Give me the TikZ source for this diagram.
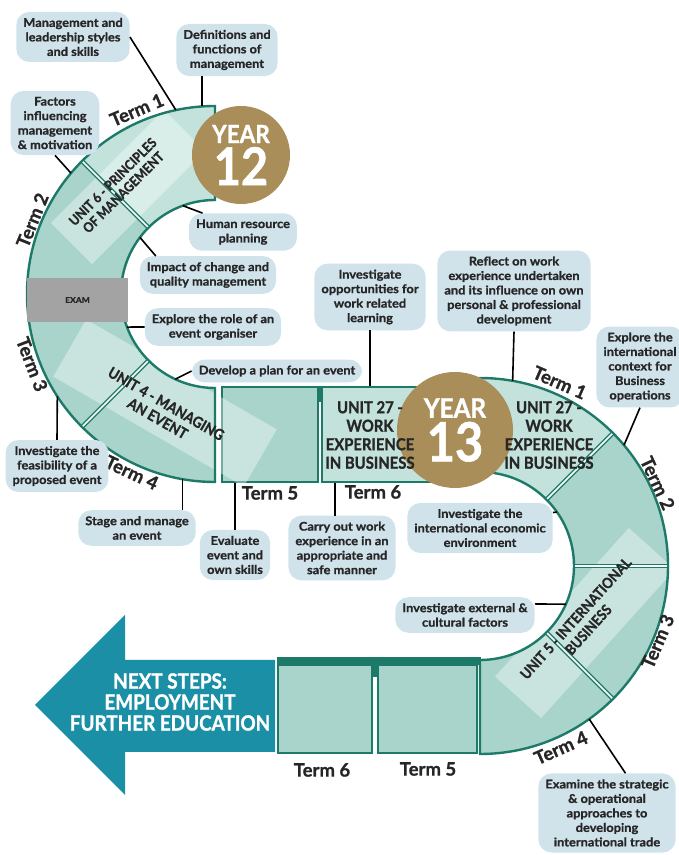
\documentclass[tikz,border=0pt]{standalone}
\usepackage{fontspec}
\setmainfont{Lato}
\newfontfamily\headfont[FakeStretch=0.9,FakeBold=1.2]{Lato}
\newfontfamily\bubfont[FakeStretch=1.07,FakeBold=1]{Lato}
\newfontfamily\termfont[FakeBold=1]{Lato}
\usepackage{tikz}

\definecolor{dkgreen}{HTML}{1E7A68}
\definecolor{bandfill}{HTML}{A9D4CB}
\definecolor{bandlt}{HTML}{C3E2DC}
\definecolor{gold}{HTML}{A98E5A}
\definecolor{bubblec}{HTML}{D0E3EB}
\definecolor{arrowc}{HTML}{1A8FA5}
\definecolor{examc}{HTML}{A3A3A3}
\definecolor{ink}{HTML}{262626}

\begin{document}
\begin{tikzpicture}[x=1pt,y=1pt,
	band/.style={fill=bandfill},
	rim/.style={draw=dkgreen,line width=2.4pt},
	divider/.style={draw=dkgreen,line width=1.4pt,double=white,double distance=1.6pt},
	shine/.style={fill=white,opacity=0.38},
	tbox/.style={fill=bandfill,draw=dkgreen,line width=2.4pt,inner sep=0pt},
	term/.style={font=\termfont\bfseries\fontsize{18.5}{18.5}\selectfont,text=ink,inner sep=0pt},
	unit/.style={font=\headfont\bfseries,text=ink,align=center,inner sep=0pt},
	bubble/.style={fill=bubblec,rounded corners=13pt,align=center,text=ink,font=\bubfont\bfseries\fontsize{12}{14.5}\selectfont,inner xsep=7pt,inner ysep=6pt},
	link/.style={draw=black,line width=1.6pt},
	year/.style={circle,fill=gold,text=white,inner sep=0pt,align=center,font=\headfont\bfseries}
]
	\useasboundingbox (0,0) rectangle (679,855);

	\begin{scope}[shift={(215,561)}]
		\fill[band] (90:188) arc[start angle=90,end angle=270,radius=188] -- (270:94) arc[start angle=270,end angle=90,radius=94] -- cycle;
		\fill[bandlt] (90:188) arc[start angle=90,end angle=135,radius=188] -- (135:94) arc[start angle=135,end angle=90,radius=94] -- cycle;
	\end{scope}
	\begin{scope}[shift={(480,289)}]
		\fill[band] (90:188) arc[start angle=90,end angle=-90,radius=188] -- (-90:94) arc[start angle=-90,end angle=90,radius=94] -- cycle;
		\fill[bandlt] (90:188) arc[start angle=90,end angle=45,radius=188] -- (45:94) arc[start angle=45,end angle=90,radius=94] -- cycle;
	\end{scope}

	\node[tbox,minimum width=96pt,minimum height=95pt] (midfive) at (270,420.5) {};
	\node[tbox,fill=bandlt,minimum width=138pt,minimum height=95pt] (midsix) at (391,420.5) {};
	\node[tbox,minimum width=94pt,minimum height=88pt] (botsix) at (325,146) {};
	\node[tbox,minimum width=99pt,minimum height=88pt] (botfive) at (427.5,146) {};

	\fill[shine,rotate around={45:(128,668)}] (48,639) rectangle (208,697);
	\fill[shine,rotate around={-30:(165,452)}] (55,419) rectangle (275,485);
	\fill[shine,rotate around={48:(585,232)}] (485,201) rectangle (685,263);

	\fill[dkgreen] (317,453) rectangle (323,469);
	\fill[dkgreen] (277,190) rectangle (481,198);
	\fill[dkgreen] (371,178) rectangle (379,198);

	\begin{scope}[shift={(215,561)}]
		\draw[rim] (90:188) arc[start angle=90,end angle=270,radius=188] -- (270:94) arc[start angle=270,end angle=90,radius=94] -- cycle;
		\draw[divider] (135:95) -- (135:187);
		\draw[divider] (225:95) -- (225:187);
		\node[term,rotate=23] (lt1) at (113:200) {Term 1};
		\node[term,rotate=68] (lt2) at (158:197) {Term 2};
		\node[term,rotate=-69] (lt3) at (201:196) {Term 3};
		\node[term,rotate=-25] (lt4) at (245:197) {Term 4};
		\coordinate (la) at (102:188);
		\coordinate (lb) at (94:188);
		\coordinate (lc) at (140:188);
		\coordinate (ld) at (110:94);
		\coordinate (le) at (143:94);
		\coordinate (lf) at (200.6:94);
		\coordinate (lg) at (245:94);
		\coordinate (lh) at (213:188);
		\coordinate (li) at (260:188);
	\end{scope}
	\begin{scope}[shift={(480,289)}]
		\draw[rim] (90:188) arc[start angle=90,end angle=-90,radius=188] -- (-90:94) arc[start angle=-90,end angle=90,radius=94] -- cycle;
		\draw[divider] (45:95) -- (45:187);
		\draw[divider] (0:95) -- (0:187);
		\draw[divider] (-45:95) -- (-45:187);
		\node[term,rotate=-23.5] (rt1) at (66.5:200) {Term 1};
		\node[term,rotate=-65] (rt2) at (25:196) {Term 2};
		\node[term,rotate=67] (rt3) at (-23:193) {Term 3};
		\node[term,rotate=24] (rt4) at (-66:199) {Term 4};
		\coordinate (ra) at (80:188);
		\coordinate (rb) at (40:188);
		\coordinate (rc) at (35:94);
		\coordinate (rd) at (-24:94);
		\coordinate (re) at (-54.5:188);
	\end{scope}

	\node[fill=examc,minimum width=101pt,minimum height=44pt,text=ink,font=\bubfont\bfseries\fontsize{8}{8}\selectfont] (exam) at (77.5,555) {EXAM};

	\node[year,minimum size=98pt] (yr12) at (241,700) {\fontsize{25}{25}\selectfont YEAR\\[3pt]\fontsize{52}{44}\selectfont 12};
	\node[year,minimum size=116pt] (yr13) at (455,425) {\fontsize{27}{27}\selectfont YEAR\\[3pt]\fontsize{54}{46}\selectfont 13};

	\node[unit,rotate=45,font=\headfont\bfseries\fontsize{13.5}{15}\selectfont] (u6) at (118,668) {UNIT 6 - PRINCIPLES\\OF MANAGEMENT};
	\node[unit,rotate=-30,font=\headfont\bfseries\fontsize{15}{17}\selectfont] (u4) at (162,444) {UNIT 4 - MANAGING\\AN EVENT};
	\node[unit,font=\headfont\bfseries\fontsize{16.5}{18.5}\selectfont] (u27a) at (370,420) {UNIT 27 -\\WORK\\EXPERIENCE\\IN BUSINESS};
	\node[unit,font=\headfont\bfseries\fontsize{16.5}{18.5}\selectfont] (u27b) at (549,420) {UNIT 27 -\\WORK\\EXPERIENCE\\IN BUSINESS};
	\node[unit,rotate=48,font=\headfont\bfseries\fontsize{14.5}{17}\selectfont] (u5) at (582,231) {UNIT 5 - INTERNATIONAL\\BUSINESS};

	\node[term] (mt5) at (270,362) {Term 5};
	\node[term] (mt6) at (373,363) {Term 6};
	\node[term] (bt6) at (322,85) {Term 6};
	\node[term] (bt5) at (428,86) {Term 5};

	\node[bubble] (lead) at (73,818) {Management and\\leadership styles\\and skills};
	\node[bubble] (defn) at (227,805) {Definitions and\\functions of\\management};
	\node[bubble] (factors) at (55,732) {Factors\\influencing\\management\\\& motivation};
	\node[bubble] (hr) at (243,623) {Human resource\\planning};
	\node[bubble] (impact) at (208,580) {Impact of change and\\quality management};
	\node[bubble] (role) at (213,528) {Explore the role of an\\event organiser};
	\node[bubble] (plan) at (277,484) {Develop a plan for an event};
	\node[bubble] (feas) at (57,389) {Investigate the\\feasibility of a\\proposed event};
	\node[bubble] (stage) at (137,327) {Stage and manage\\an event};
	\node[bubble] (eval) at (235,300) {Evaluate\\event and\\own skills};
	\node[bubble] (carry) at (342,307) {Carry out work\\experience in an\\appropriate and\\safe manner};
	\node[bubble] (opps) at (370,558) {Investigate\\opportunities for\\work related\\learning};
	\node[bubble] (reflect) at (514,564) {Reflect on work\\experience undertaken\\and its influence on own\\personal \& professional\\development};
	\node[bubble] (context) at (640,488) {Explore the\\international\\context for\\Business\\operations};
	\node[bubble] (econ) at (480,327) {Investigate the\\international economic\\environment};
	\node[bubble] (external) at (465,240) {Investigate external \&\\cultural factors};
	\node[bubble] (strategic) at (607,42) {Examine the strategic\\\& operational\\approaches to\\developing\\international trade};

	\draw[link] (lead.east) -- (la);
	\draw[link] (lb) -- (lb |- defn.south);
	\draw[link] (factors.south) -- (lc);
	\draw[link] (ld) -- (hr.155);
	\draw[link] (le) -- (impact.160);
	\draw[link] (lf) -- (role.west);
	\draw[link] (lg) -- (plan.west);
	\draw[link] (lh) -- (feas.north);
	\draw[link] (li) -- (li |- stage.north);
	\draw[link] (eval.north) -- (eval.north |- midfive.south);
	\draw[link] ([xshift=-7pt]carry.north) -- ([xshift=-7pt]carry.north |- midsix.south);
	\draw[link] (opps.south) -- (opps.south |- midsix.north);
	\draw[link] (reflect.south) -- (ra);
	\draw[link] (context.south) -- (rb);
	\draw[link] (rc) -- (econ.12);
	\draw[link] (rd) -- (external.9);
	\draw[link] (re) -- (strategic.65);

	\fill[arrowc] (35,150) -- (125,240) -- (125,195) -- (275,195) -- (275,103) -- (125,103) -- (125,60) -- cycle;
	\node[font=\headfont\bfseries\fontsize{21}{21}\selectfont,text=white,align=center] (next) at (170,153) {NEXT STEPS:\\EMPLOYMENT\\FURTHER EDUCATION};
\end{tikzpicture}
\end{document}
